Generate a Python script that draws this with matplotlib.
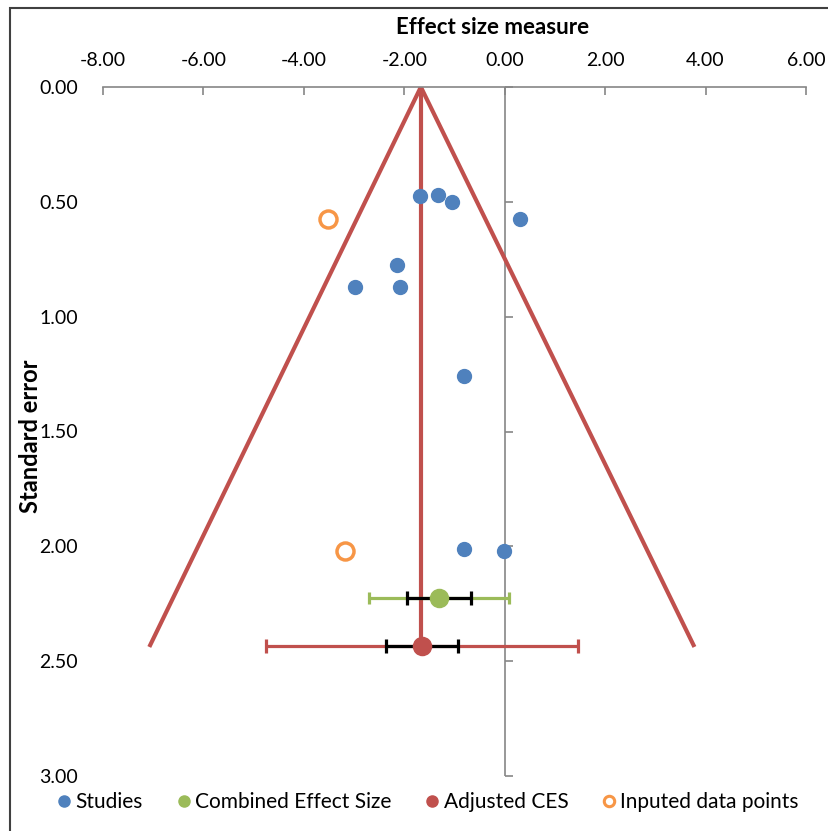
# Funnel plot: effect size vs standard error, with trim-and-fill points
import numpy as np
import matplotlib.pyplot as plt
from matplotlib.patches import Rectangle
from matplotlib.lines import Line2D

plt.rcParams['font.family'] = ['Lato', 'DejaVu Sans']

# observed studies
study_es = [-1.69, -1.33, -1.05, 0.30, -2.15, -2.98, -2.09, -0.82, -0.82, -0.02]
study_se = [0.474, 0.47, 0.50, 0.574, 0.774, 0.87, 0.87, 1.26, 2.01, 2.02]

# imputed (trim and fill) points
imputed_es = [-3.52, -3.18]
imputed_se = [0.574, 2.02]

# combined effect size and adjusted CES
ces_es, ces_se = -1.31, 2.226
ces_ci95, ces_ci_inner = 1.39, 0.645
adj_es, adj_se = -1.65, 2.435
adj_ci95, adj_ci_inner = 3.10, 0.71

# funnel outline
funnel_x = [-7.06, -1.67, 3.76]
funnel_y = [2.43, 0.0, 2.43]
center_x = [-1.67, -1.67]
center_y = [0.0, 2.43]

xticks = [-8, -6, -4, -2, 0, 2, 4, 6]
yticks = [0.0, 0.5, 1.0, 1.5, 2.0, 2.5, 3.0]

BLUE = '#4F81BD'
GREEN = '#9BBB59'
RED = '#C0504D'
ORANGE = '#F79646'
GRAY = '#868686'

fig = plt.figure(figsize=(8.29, 8.31), dpi=100)
ax = fig.add_axes([103/829, 1 - 776/831, 703/829, 689/831])

ax.set_xlim(-8, 6)
ax.set_ylim(3, 0)

# funnel
ax.plot(funnel_x, funnel_y, color=RED, lw=3, solid_joinstyle='miter', zorder=2)
ax.plot(center_x, center_y, color=RED, lw=3, zorder=2)

# vertical axis line at x = 0 with ticks to the right
ax.axvline(0, color=GRAY, lw=1.2, zorder=1)
ax.plot(np.zeros(len(yticks)), yticks, ls='none', marker=1, ms=6,
        mew=1.2, color=GRAY, zorder=1, clip_on=False)

# studies
ax.scatter(study_es, study_se, s=100, color=BLUE, zorder=4)

# imputed points
ax.scatter(imputed_es, imputed_se, s=150, facecolor='white', edgecolor=ORANGE,
           linewidth=2.5, zorder=4)

# combined effect size
ax.errorbar(ces_es, ces_se, xerr=ces_ci95, color=GREEN, lw=2.3, capsize=4,
            capthick=2.3, zorder=3)
ax.errorbar(ces_es, ces_se, xerr=ces_ci_inner, color='black', lw=2.3,
            capsize=5, capthick=2.3, zorder=3)
ax.scatter([ces_es], [ces_se], s=170, color=GREEN, zorder=5)

# adjusted CES
ax.errorbar(adj_es, adj_se, xerr=adj_ci95, color=RED, lw=2.3, capsize=5,
            capthick=2.3, zorder=3)
ax.errorbar(adj_es, adj_se, xerr=adj_ci_inner, color='black', lw=2.3,
            capsize=5, capthick=2.3, zorder=3)
ax.scatter([adj_es], [adj_se], s=170, color=RED, zorder=5)

# axes styling
for side in ['left', 'right', 'bottom']:
    ax.spines[side].set_visible(False)
ax.spines['top'].set_color(GRAY)
ax.spines['top'].set_linewidth(1.2)

ax.xaxis.tick_top()
ax.set_xticks(xticks)
ax.set_xticklabels([f'{v:.2f}' for v in xticks], fontsize=14)
ax.tick_params(axis='x', direction='in', length=6, width=1.2, colors=GRAY,
               labelcolor='black', pad=13)

ax.set_yticks(yticks)
ax.set_yticklabels([f'{v:.2f}' for v in yticks], fontsize=14)
ax.tick_params(axis='y', length=0, pad=18)

fig.text(493/829, 1 - 28/831, 'Effect size measure', ha='center', va='center',
         fontsize=16, fontweight='bold')
fig.text(31/829, 1 - 436/831, 'Standard error', ha='center', va='center',
         rotation=90, fontsize=17, fontweight='bold')

# legend
labels = ['Studies', 'Combined Effect Size', 'Adjusted CES', 'Inputed data points']
handles = [
    Line2D([], [], ls='none', marker='o', ms=8, color=BLUE),
    Line2D([], [], ls='none', marker='o', ms=8, color=GREEN),
    Line2D([], [], ls='none', marker='o', ms=8, color=RED),
    Line2D([], [], ls='none', marker='o', ms=7.5, mfc='white', mec=ORANGE, mew=2.2),
]
fig.legend(handles, labels, loc='center', ncol=4,
           bbox_to_anchor=(429/829, 1 - 802/831), frameon=False,
           fontsize=15, handletextpad=0.3, columnspacing=1.7,
           handlelength=0.5, borderpad=0)

# outer frame
fig.add_artist(Rectangle((10/829, -0.1), 1.2, 1 - 8/831 + 0.1,
                         transform=fig.transFigure, fill=False,
                         edgecolor='#404040', lw=1.5))

plt.savefig('out.png', dpi=100)
